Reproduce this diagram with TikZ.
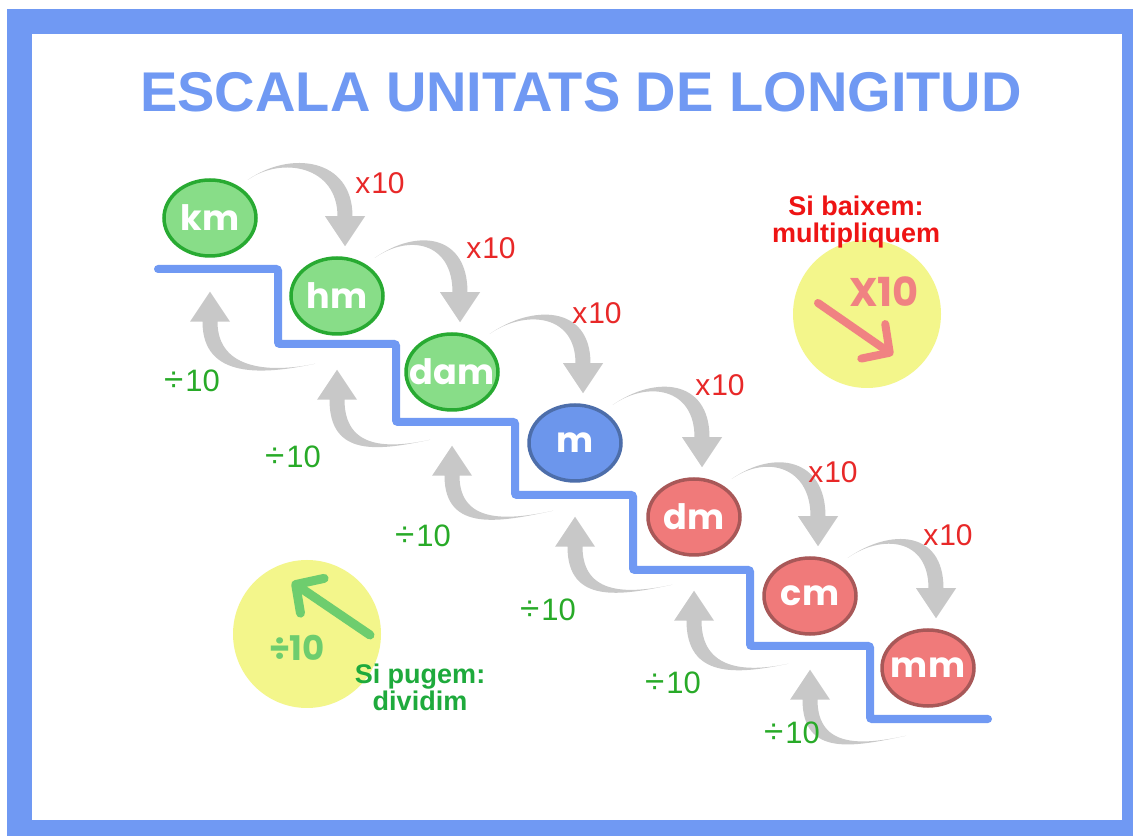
\documentclass[tikz,border=0pt]{standalone}
\usepackage{fontspec}
\setmainfont{Liberation Sans}
\newfontfamily\unitfont{Poppins}
\usetikzlibrary{arrows.meta, positioning, shapes.geometric, backgrounds}
\definecolor{frameblue}{RGB}{112,153,243}
\definecolor{greenfill}{RGB}{136,221,136}
\definecolor{greenline}{RGB}{40,170,50}
\definecolor{bluefill}{RGB}{108,150,236}
\definecolor{blueline}{RGB}{77,110,170}
\definecolor{redfill}{RGB}{240,122,122}
\definecolor{redline}{RGB}{168,88,88}
\definecolor{arrowgray}{RGB}{200,200,200}
\definecolor{mulred}{RGB}{232,40,40}
\definecolor{divgreen}{RGB}{40,170,40}
\definecolor{hintyellow}{RGB}{243,246,139}
\definecolor{salmon}{RGB}{240,130,130}
\definecolor{softgreen}{RGB}{110,205,110}
\definecolor{textred}{RGB}{238,20,20}
\definecolor{textgreen}{RGB}{30,170,60}
\pgfdeclarelayer{frame}
\pgfsetlayers{frame,background,main}
\newcommand{\unitname}[1]{\makebox[0pt]{#1}}
\newcommand{\divsign}{{\fontsize{35}{35}\selectfont ÷}\kern2pt}

\begin{document}
\begin{tikzpicture}[x=1pt,y=1pt,
    unit/.style={ellipse,line width=3.5pt,minimum width=92pt,minimum height=76pt,inner sep=0pt,text=white,font=\unitfont\bfseries\fontsize{35}{35}\selectfont},
    unitgreen/.style={unit,draw=greenline,fill=greenfill},
    unitblue/.style={unit,draw=blueline,fill=bluefill},
    unitred/.style={unit,draw=redline,fill=redfill},
    mullabel/.style={text=mulred,font=\fontsize{30}{30}\selectfont},
    divlabel/.style={text=divgreen,font=\fontsize{31}{31}\selectfont},
    hint/.style={circle,fill=hintyellow,minimum size=148pt,inner sep=0pt},
    hinttext/.style={align=center,font=\bfseries\fontsize{27}{27}\selectfont}]
    % Frame
    \begin{pgfonlayer}{frame}
        \fill[white] (0,0) rectangle (1133,836);
        \fill[frameblue] (7,0) rectangle (1133,827);
        \fill[white] (32,16) rectangle (1122,802);
        \node[hint] (downhint) at (867,522) {};
        \node[hint] (uphint) at (307,202) {};
    \end{pgfonlayer}
    \node[text=frameblue,font=\bfseries\fontsize{56}{56}\selectfont] (title) at (581,744) {ESCALA UNITATS DE LONGITUD};
    % Stairs
    \draw[frameblue,line width=8pt,line cap=round,rounded corners=2pt]
        (158,567) -- (278,567) -- (278,492) -- (396,492) -- (396,414) -- (515,414) -- (515,341)
        -- (633,341) -- (633,266) -- (750,266) -- (750,190) -- (870,190) -- (870,117) -- (988,117);
    % Units
    \node[unitgreen] (km) at (210,618) {\unitname{km}};
    \node[unitgreen] (hm) at (337,540) {\unitname{hm}};
    \node[unitgreen] (dam) at (452,464) {\unitname{dam}};
    \node[unitblue] (m) at (575,393) {\unitname{m}};
    \node[unitred] (dm) at (694,319) {\unitname{dm}};
    \node[unitred] (cm) at (810,240) {\unitname{cm}};
    \node[unitred] (mm) at (928,168) {\unitname{mm}};
    % Arrows going down: x10
    \begin{pgfonlayer}{background}
    \foreach \a/\b in {km/hm,hm/dam,dam/m,m/dm,dm/cm,cm/mm} {
        \coordinate (s) at ([shift={(4,10)}]\a.north east);
        \coordinate (e) at ([shift={(8,40)}]\b.north);
        \fill[arrowgray] (s) .. controls +(35:52) and +(0,58) .. ([xshift=7.5]e) -- ([xshift=20]e) -- ([yshift=-30]e)
            -- ([xshift=-20]e) -- ([xshift=-7.5]e) .. controls +(0,50) and +(35:42) .. (s) -- cycle;
    }
    % Arrows going up: divide
    \foreach \a/\b in {hm/km,dam/hm,m/dam,dm/m,cm/dm,mm/cm} {
        \coordinate (s) at ([shift={(-22,-28)}]\a.south);
        \coordinate (e) at ([shift={(0,-64)}]\b.south);
        \fill[arrowgray] (s) .. controls +(192:52) and +(0,-58) .. ([xshift=-7.5]e) -- ([xshift=-20]e) -- ([yshift=30]e)
            -- ([xshift=20]e) -- ([xshift=7.5]e) .. controls +(0,-50) and +(192:42) .. (s) -- cycle;
    }
    \end{pgfonlayer}
    % Labels
    \foreach \x/\y [count=\i] in {380/653,491/588,597/523,720/451,833/364,948/301}
        \node[mullabel] (mul\i) at (\x,\y) {x\kern1pt10};
    \foreach \x/\y [count=\i] in {192/455,293/379,423/300,548/226,673/153,792/103}
        \node[divlabel] (div\i) at (\x,\y) {\divsign 10};
    % Hints
    \node[hinttext,text=textred] (downtext) at (856,614) {Si baixem:\\multipliquem};
    \node[text=salmon,font=\unitfont\bfseries\fontsize{40}{40}\selectfont] (downsign) at (884,544) {X10};
    \coordinate (downfrom) at (818,533);
    \coordinate (downto) at (893,481);
    \draw[salmon,line width=8pt,line cap=round,-{Straight Barb[round,length=20pt,width=42pt]}] (downfrom) -- (downto);
    \node[hinttext,text=textgreen] (uptext) at (420,149) {Si pugem:\\dividim};
    \node[text=softgreen,font=\unitfont\bfseries\fontsize{34}{34}\selectfont] (upsign) at (297,188) {÷10};
    \coordinate (upfrom) at (370,201);
    \coordinate (upto) at (292,254);
    \draw[softgreen,line width=9pt,line cap=round,-{Straight Barb[round,length=20pt,width=42pt]}] (upfrom) -- (upto);
\end{tikzpicture}
\end{document}
